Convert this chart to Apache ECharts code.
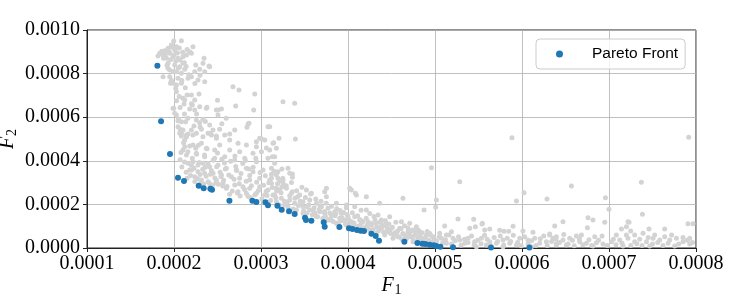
<!DOCTYPE html>
<html>
<head>
<meta charset="utf-8">
<script src="https://cdn.jsdelivr.net/npm/echarts/dist/echarts.min.js"></script>
<style>
  html, body { margin: 0; padding: 0; background: #fff; }
  #main { width: 747px; height: 299px; }
</style>
</head>
<body>
<div id="main"></div>
<script>
// values are in units of 1e-4  [F1, F2]
var SCALE = 1e-4

// all evaluated solutions (grey)
var allPoints = [
  [1.997, 9.495], [2.085, 9.509], [1.970, 9.312], [1.931, 9.161], [1.893, 9.050], [1.836, 8.931],
  [1.816, 8.807], [1.874, 8.853], [1.951, 8.931], [2.008, 9.083], [2.028, 9.234], [1.989, 8.775],
  [1.913, 8.702], [2.046, 8.702], [2.103, 8.775], [2.143, 8.853], [2.200, 8.931], [2.218, 9.234],
  [2.180, 9.005], [2.345, 8.702], [2.333, 8.472], [2.402, 8.349], [2.295, 8.197], [2.238, 8.087],
  [2.353, 8.087], [2.103, 8.472], [1.931, 8.472], [2.008, 8.394], [2.066, 8.317], [2.123, 8.197],
  [1.951, 8.165], [2.028, 8.087], [2.085, 8.014], [1.874, 7.858], [1.951, 7.858], [2.046, 7.784],
  [2.161, 7.784], [2.200, 7.858], [2.276, 7.706], [2.353, 7.628], [1.959, 7.555], [2.028, 7.477],
  [2.085, 7.555], [2.678, 7.399], [2.747, 7.248], [2.928, 7.064], [2.028, 7.170], [2.200, 7.018],
  [2.287, 7.064], [2.103, 6.867], [2.238, 6.789], [2.115, 6.606], [2.211, 6.560], [2.180, 6.376],
  [2.238, 6.330], [2.379, 6.454], [2.487, 6.330], [2.545, 6.376], [2.506, 6.101], [2.709, 6.514],
  [2.916, 6.330], [1.997, 6.408], [2.008, 6.179], [2.862, 5.720], [2.839, 5.537], [3.080, 5.564],
  [2.046, 5.839], [2.134, 5.794], [2.257, 5.872], [2.295, 5.748], [2.333, 5.904], [2.410, 5.642],
  [2.315, 5.445], [2.103, 5.413], [2.046, 5.564], [2.200, 5.413], [2.448, 5.413], [2.525, 5.445],
  [2.640, 5.229], [2.698, 5.413], [2.391, 5.261], [2.487, 5.138], [2.085, 5.138], [2.218, 5.183],
  [2.143, 5.106], [2.985, 5.032],
  [1.931, 8.243], [1.989, 7.555], [2.123, 6.789], [1.989, 6.408], [2.028, 6.101], [2.085, 5.794],
  [2.066, 5.261], [2.143, 5.183], [2.295, 6.482], [2.372, 6.408], [2.506, 6.330], [2.410, 8.317],
  [2.085, 5.261], [2.161, 5.229], [2.257, 5.261], [2.333, 5.106], [2.430, 5.183], [2.487, 5.032],
  [2.583, 5.183], [2.640, 4.954], [2.736, 4.803], [2.832, 4.725], [2.947, 4.876], [3.043, 4.954],
  [3.138, 4.803], [2.123, 4.647], [2.218, 4.725], [2.315, 4.803], [2.525, 4.725], [2.372, 4.573],
  [2.468, 4.495], [2.640, 4.495], [2.755, 4.417], [2.908, 4.344], [3.005, 4.417], [3.100, 4.495],
  [3.177, 4.573], [2.143, 4.266], [2.257, 4.344], [2.353, 4.188], [2.468, 4.115], [2.583, 4.188],
  [2.698, 4.037], [2.813, 4.115], [2.947, 3.959], [3.080, 4.115], [3.157, 4.188], [2.161, 3.885],
  [2.218, 3.959], [2.276, 3.807], [2.333, 3.885], [2.410, 3.729], [2.506, 3.807], [2.602, 3.656],
  [2.717, 3.578], [2.832, 3.656], [2.908, 3.500], [3.023, 3.578], [3.120, 3.656], [3.195, 3.500],
  [2.200, 3.578], [2.276, 3.500], [2.353, 3.427], [2.448, 3.427], [2.545, 3.349], [2.660, 3.271],
  [2.755, 3.197], [2.870, 3.119], [2.985, 3.197], [3.100, 3.119], [3.195, 3.197], [2.238, 3.271],
  [2.315, 3.119], [2.391, 3.041], [2.487, 3.119], [2.563, 2.968], [2.698, 2.890], [2.793, 2.812],
  [2.870, 2.739], [2.985, 2.812], [3.080, 2.661], [3.177, 2.739], [2.602, 2.739], [2.736, 2.583],
  [2.832, 2.509], [2.947, 2.509], [3.043, 2.431], [3.138, 2.431], [2.103, 4.495], [2.123, 4.954],
  [2.180, 3.578],
  [3.253, 6.711], [3.387, 6.638], [3.100, 5.564], [3.146, 4.830], [3.207, 5.032], [3.395, 5.000],
  [3.131, 4.188], [3.157, 3.885], [3.241, 3.624], [3.310, 3.656], [3.361, 3.394], [3.361, 3.243],
  [3.177, 3.349], [3.215, 3.087], [3.253, 2.968], [3.120, 3.197], [3.752, 2.739], [4.020, 2.739],
  [2.851, 5.688], [3.005, 5.014], [2.947, 4.647], [3.062, 4.587],
  [3.120, 2.968], [3.215, 2.661], [3.292, 2.739], [3.349, 2.509], [3.445, 2.431], [3.483, 2.124],
  [3.560, 2.202], [3.637, 2.050], [3.694, 1.894], [3.770, 1.821], [3.847, 1.665], [3.924, 1.592],
  [4.000, 1.436], [4.077, 1.436], [4.134, 1.284], [4.230, 1.206], [4.326, 1.133], [4.422, 1.055],
  [4.499, 0.904], [4.594, 0.904], [4.690, 0.748], [4.786, 0.674], [3.330, 3.427], [3.253, 3.119],
  [3.522, 2.661], [3.579, 2.509], [3.732, 2.583], [3.752, 2.353], [4.039, 2.661], [4.097, 2.431],
  [4.211, 2.353], [4.077, 1.894], [3.982, 1.972], [3.867, 2.050], [4.211, 1.743], [4.345, 1.514],
  [4.384, 1.284], [4.479, 1.436], [4.632, 2.280], [4.364, 2.050], [4.614, 1.206], [4.709, 1.133],
  [4.786, 0.977], [4.671, 0.445], [4.805, 0.445], [3.177, 2.124], [3.272, 1.972], [3.407, 1.743],
  [3.483, 1.592], [3.637, 1.436], [3.790, 1.284], [3.867, 1.133], [3.982, 1.055], [4.097, 0.977],
  [4.172, 0.904], [4.249, 0.826], [4.326, 0.674], [4.422, 0.596], [4.517, 0.445], [4.575, 0.518],
  [4.747, 0.289], [3.157, 2.431], [3.234, 2.280], [3.330, 2.202], [3.387, 2.050], [3.522, 1.894],
  [3.598, 1.743], [3.675, 1.665], [3.732, 1.592], [3.809, 1.514], [3.905, 1.362], [3.962, 1.284],
  [4.039, 1.206], [4.154, 1.133], [4.269, 1.055], [4.384, 0.904], [4.460, 0.748], [4.556, 0.674],
  [4.652, 0.596], [4.729, 0.518], [4.805, 0.826], [4.085, 2.509],
  [4.959, 3.683], [5.284, 3.041], [5.016, 2.202], [4.874, 1.743], [5.008, 1.867], [6.023, 2.537],
  [5.936, 2.156], [6.287, 2.248], [5.264, 1.330], [5.445, 1.317], [5.540, 1.101], [5.464, 0.977],
  [5.571, 0.826], [5.629, 0.872], [5.744, 0.812], [5.793, 0.766], [5.847, 0.766], [5.897, 0.995],
  [6.011, 0.780], [6.126, 0.720], [6.318, 0.642], [6.376, 1.009], [5.111, 1.009], [4.747, 0.826],
  [4.824, 0.748], [4.901, 0.596], [4.977, 0.518], [5.054, 0.674], [5.131, 0.596], [5.189, 0.748],
  [5.074, 0.445], [5.207, 0.445], [5.284, 0.367], [5.379, 0.445], [5.341, 0.216], [5.456, 0.289],
  [5.533, 0.445], [5.629, 0.289], [5.591, 0.138], [5.706, 0.216], [5.782, 0.367], [5.859, 0.216],
  [5.936, 0.138], [5.974, 0.445], [6.069, 0.367], [6.146, 0.445], [6.203, 0.216], [6.280, 0.289],
  [6.356, 0.445], [6.395, 0.138], [4.862, 0.367], [4.939, 0.289], [5.131, 0.216], [5.476, 0.060],
  [5.782, 0.060], [6.108, 0.060], [5.399, 0.904],
  [7.916, 5.078], [5.885, 5.060], [6.568, 2.844], [7.372, 3.014], [6.959, 2.307], [7.000, 1.775],
  [7.384, 1.546], [6.471, 1.206], [6.759, 1.390], [6.816, 1.284], [6.752, 0.931], [6.951, 1.179],
  [7.230, 1.179], [7.200, 0.977], [7.143, 0.872], [7.249, 0.780], [7.391, 0.674], [7.460, 0.872],
  [7.640, 0.872], [7.908, 1.115], [7.966, 1.115], [7.928, 0.445], [6.318, 0.596], [6.395, 0.518],
  [6.471, 0.367], [6.548, 0.445], [6.625, 0.550], [6.663, 0.289], [6.740, 0.216], [6.836, 0.518],
  [6.855, 0.243], [6.931, 0.183], [7.028, 0.289], [7.085, 0.596], [7.123, 0.367], [7.218, 0.445],
  [7.295, 0.289], [7.353, 0.399], [7.430, 0.289], [7.506, 0.445], [7.583, 0.367], [7.640, 0.518],
  [7.698, 0.367], [7.775, 0.445], [7.851, 0.289], [7.928, 0.183], [6.510, 0.138], [6.816, 0.092],
  [7.161, 0.092], [7.468, 0.092], [7.755, 0.092], [6.395, 0.183], [6.683, 0.596], [7.295, 0.596],
  [7.525, 0.596], [5.545, 1.133], [7.218, 1.206],
  // dense band
  [2.07, 4.05], [2.09, 3.72], [2.12, 3.95], [2.14, 3.48], [2.16, 4.41], [2.19, 3.33], [2.21, 4.12],
  [2.23, 3.66], [2.25, 4.58], [2.27, 3.18], [2.29, 3.92], [2.11, 4.83], [2.18, 4.68], [2.24, 3.05],
  [2.30, 3.37], [2.08, 4.38], [2.20, 3.80], [2.26, 4.30], [2.15, 3.20], [2.28, 4.71],
  [2.31, 3.02], [2.33, 3.61], [2.35, 4.27], [2.37, 3.29], [2.39, 3.88], [2.41, 2.96], [2.43, 3.55],
  [2.45, 4.02], [2.47, 3.21], [2.49, 3.73], [2.51, 2.93], [2.53, 3.47], [2.55, 4.07], [2.57, 3.11],
  [2.59, 3.62], [2.34, 2.94], [2.38, 4.55], [2.44, 2.87], [2.50, 4.36], [2.56, 2.84], [2.42, 3.38],
  [2.48, 2.98], [2.54, 3.28], [2.58, 3.90], [2.36, 3.70],
  [2.61, 2.82], [2.63, 3.35], [2.65, 3.98], [2.67, 2.61], [2.69, 3.15], [2.71, 3.74], [2.73, 2.52],
  [2.75, 2.95], [2.77, 3.42], [2.79, 3.88], [2.81, 2.68], [2.83, 3.06], [2.85, 2.37], [2.87, 3.33],
  [2.89, 2.86], [2.91, 3.70], [2.93, 2.44], [2.95, 3.02], [2.97, 2.64], [2.99, 3.46], [2.64, 2.47],
  [2.70, 4.22], [2.76, 2.38], [2.82, 4.01], [2.88, 2.30], [2.94, 4.12], [2.72, 3.55], [2.86, 3.62],
  [3.01, 2.25], [3.03, 2.88], [3.05, 3.31], [3.07, 2.41], [3.09, 2.99], [3.11, 2.18], [3.13, 2.77],
  [3.15, 3.52], [3.17, 2.30], [3.19, 2.95], [3.21, 1.98], [3.23, 2.53], [3.25, 3.20], [3.27, 2.15],
  [3.29, 2.86], [3.31, 1.88], [3.33, 2.40], [3.35, 3.01], [3.37, 1.79], [3.39, 2.28], [3.41, 2.63],
  [3.43, 1.95], [3.45, 2.14], [3.47, 2.79], [3.49, 1.70], [3.06, 2.60], [3.12, 3.38], [3.18, 2.62],
  [3.24, 2.80], [3.30, 2.10], [3.36, 2.58], [3.42, 2.35], [3.48, 1.90],
  [3.51, 2.32], [3.53, 1.61], [3.55, 1.98], [3.57, 2.48], [3.59, 1.52], [3.61, 1.85], [3.63, 2.25],
  [3.65, 1.43], [3.67, 1.77], [3.69, 2.14], [3.71, 1.36], [3.73, 1.68], [3.75, 2.05], [3.77, 1.29],
  [3.79, 1.60], [3.81, 1.92], [3.83, 1.22], [3.85, 1.48], [3.87, 1.80], [3.89, 1.15], [3.91, 1.72],
  [3.93, 1.40], [3.95, 1.63], [3.97, 1.11], [3.99, 1.53], [3.56, 1.75], [3.62, 1.62], [3.68, 1.92],
  [3.74, 1.45], [3.80, 1.35], [3.86, 1.58], [3.92, 1.25], [3.98, 1.85],
  [4.01, 1.30], [4.03, 1.05], [4.05, 1.62], [4.07, 1.15], [4.09, 0.98], [4.11, 1.48], [4.13, 1.02],
  [4.15, 1.73], [4.17, 1.21], [4.19, 0.93], [4.21, 1.36], [4.23, 0.88], [4.25, 1.58], [4.27, 1.12],
  [4.29, 0.85], [4.31, 1.30], [4.33, 0.98], [4.35, 0.78], [4.37, 1.19], [4.39, 1.05], [4.41, 0.72],
  [4.43, 1.25], [4.45, 0.88], [4.47, 1.10], [4.49, 0.66], [4.06, 0.92], [4.14, 1.30], [4.22, 1.06],
  [4.30, 1.45], [4.36, 0.93], [4.44, 1.02], [4.48, 0.80],
  [4.51, 0.95], [4.53, 0.58], [4.55, 1.18], [4.57, 0.78], [4.59, 0.50], [4.61, 0.88], [4.63, 0.66],
  [4.65, 1.02], [4.67, 0.43], [4.69, 0.92], [4.71, 0.62], [4.73, 0.79], [4.75, 0.38], [4.77, 0.58],
  [4.79, 0.85], [4.81, 0.33], [4.83, 0.55], [4.85, 0.70], [4.87, 0.30], [4.89, 0.48], [4.91, 0.76],
  [4.93, 0.36], [4.95, 0.58], [4.97, 0.26], [4.99, 0.44], [4.54, 0.70], [4.62, 0.40], [4.70, 0.52],
  [4.78, 0.70], [4.86, 0.42], [4.94, 0.66],
  [5.02, 0.32], [5.05, 0.52], [5.09, 0.24], [5.12, 0.38], [5.16, 0.60], [5.19, 0.18], [5.23, 0.33],
  [5.27, 0.52], [5.30, 0.13], [5.34, 0.40], [5.38, 0.25], [5.42, 0.55], [5.45, 0.15], [5.49, 0.35],
  [5.53, 0.20], [5.57, 0.58], [5.60, 0.40], [5.64, 0.12], [5.68, 0.48], [5.72, 0.30], [5.75, 0.55],
  [5.79, 0.14], [5.83, 0.45], [5.87, 0.30], [5.90, 0.58], [5.95, 0.25], [5.99, 0.10], [6.03, 0.52],
  [6.07, 0.20], [6.11, 0.33], [6.16, 0.12], [6.21, 0.42], [6.25, 0.55], [6.29, 0.12], [6.34, 0.30],
  [6.39, 0.40],
  [6.43, 0.25], [6.48, 0.62], [6.53, 0.18], [6.58, 0.35], [6.60, 0.10], [6.66, 0.42], [6.70, 0.15],
  [6.77, 0.38], [6.80, 0.12], [6.88, 0.35], [6.92, 0.55], [6.98, 0.12], [7.05, 0.40], [7.08, 0.15],
  [7.15, 0.22], [7.20, 0.60], [7.25, 0.12], [7.32, 0.20], [7.38, 0.12], [7.45, 0.48], [7.50, 0.18],
  [7.56, 0.25], [7.62, 0.12], [7.68, 0.22], [7.72, 0.60], [7.80, 0.18], [7.85, 0.48], [7.90, 0.35],
  [7.96, 0.25],
  // top cluster
  [1.86, 9.02], [1.90, 8.86], [1.94, 9.03], [1.96, 8.64], [1.98, 9.21], [2.00, 8.85], [2.02, 8.58],
  [2.04, 8.95], [2.06, 9.17], [2.07, 8.62], [2.10, 8.98], [2.12, 8.50], [2.15, 9.10], [1.88, 8.70],
  [1.92, 8.38], [1.99, 8.10], [2.05, 8.25], [2.14, 8.33], [2.17, 7.95], [2.25, 8.40], [2.30, 7.92],
  [1.97, 7.70], [2.02, 7.33], [2.09, 7.68], [2.13, 7.35], [2.24, 7.55], [2.06, 6.95], [2.15, 7.02],
  [2.03, 6.75], [2.07, 6.45], [2.12, 6.15], [2.16, 5.95], [2.20, 6.62], [2.05, 5.92], [2.26, 6.15],
  [2.30, 5.55], [2.36, 5.80], [2.42, 5.25], [2.55, 5.70], [2.60, 5.95], [2.50, 6.78], [2.07, 5.45],
  [2.23, 5.60]
]

// non-dominated solutions (blue)
var paretoFront = [
  [1.809, 8.362], [1.851, 5.812], [1.954, 4.312], [2.046, 3.225], [2.115, 3.073], [2.284, 2.858],
  [2.341, 2.739], [2.418, 2.720], [2.437, 2.674], [2.637, 2.170], [2.901, 2.170], [2.947, 2.110],
  [3.051, 2.096], [3.080, 1.959], [3.189, 1.940], [3.238, 1.757], [3.322, 1.683], [3.387, 1.560],
  [3.506, 1.390], [3.517, 1.284], [3.579, 1.252], [3.721, 1.179], [3.732, 0.977], [3.901, 0.963],
  [4.011, 0.904], [4.051, 0.872], [4.103, 0.826], [4.146, 0.794], [4.184, 0.780], [4.269, 0.656],
  [4.318, 0.550], [4.356, 0.335], [4.648, 0.289], [4.798, 0.229], [4.855, 0.197], [4.890, 0.183],
  [4.939, 0.151], [4.985, 0.124], [5.016, 0.092], [5.062, 0.060], [5.207, 0.030], [5.644, 0.020],
  [6.085, 0.020]
]

;(function () {
  var toData = function (arr) {
    return arr.map(function (p) {
      return [p[0] * SCALE, p[1] * SCALE]
    })
  }

  var serif = 'Liberation Serif'
  var myChart = echarts.init(document.getElementById('main'), null, { renderer: 'canvas' })

  var axisCommon = {
    axisLine: { show: true, onZero: false, lineStyle: { color: '#222', width: 1 } },
    axisTick: { show: true, inside: false, length: 4, lineStyle: { color: '#222' } },
    splitLine: { show: true, lineStyle: { color: '#b0b0b0', width: 0.8 } },
    axisLabel: {
      color: '#000',
      fontFamily: serif,
      fontSize: 20,
      formatter: function (v) { return v.toFixed(4) }
    }
  }

  var subRich = {
    f: { fontFamily: serif, fontStyle: 'italic', fontSize: 20, color: '#000' },
    s: { fontFamily: serif, fontSize: 14, color: '#000', padding: [9, 0, 0, 1] }
  }

  var option = {
    animation: false,
    backgroundColor: '#fff',
    grid: {
      left: 87,
      right: 51,
      top: 30,
      bottom: 51,
      containLabel: false,
      outerBoundsMode: 'none',
      show: true,
      borderColor: '#222',
      borderWidth: 1
    },
    legend: {
      data: ['Pareto Front'],
      left: 536,
      top: 39,
      orient: 'vertical',
      padding: [7, 7, 7, 20],
      icon: 'circle',
      itemWidth: 7,
      itemHeight: 7,
      backgroundColor: 'rgba(255,255,255,0.8)',
      borderColor: '#cccccc',
      borderWidth: 1,
      borderRadius: 4,
      formatter: function (name) { return '{g|}{t|' + name + '}' },
      textStyle: {
        rich: {
          g: { width: 24 },
          t: { fontFamily: 'Liberation Sans', fontSize: 15.5, color: '#000' }
        }
      }
    },
    xAxis: Object.assign({}, axisCommon, {
      type: 'value',
      min: 0.0001,
      max: 0.0008,
      interval: 0.0001,
      name: '{f|F}{s|1}',
      nameLocation: 'middle',
      nameGap: 26,
      nameMoveOverlap: false,
      nameTextStyle: { rich: subRich },
      axisLabel: Object.assign({}, axisCommon.axisLabel, { margin: 6 })
    }),
    yAxis: Object.assign({}, axisCommon, {
      type: 'value',
      min: 0,
      max: 0.001,
      interval: 0.0002,
      name: '{f|F}{s|2}',
      nameLocation: 'middle',
      nameGap: 68,
      nameRotate: 90,
      nameMoveOverlap: false,
      nameTextStyle: { rich: subRich },
      axisLabel: Object.assign({}, axisCommon.axisLabel, { margin: 7 })
    }),
    series: [
      {
        name: 'All',
        type: 'scatter',
        symbolSize: 5,
        itemStyle: { color: '#d3d3d3', opacity: 1 },
        data: toData(allPoints),
        z: 2
      },
      {
        name: 'Pareto Front',
        type: 'scatter',
        symbolSize: 6,
        itemStyle: { color: '#1f77b4', opacity: 1 },
        data: toData(paretoFront),
        z: 3
      }
    ]
  }

  myChart.setOption(option)
})()
</script>
</body>
</html>
